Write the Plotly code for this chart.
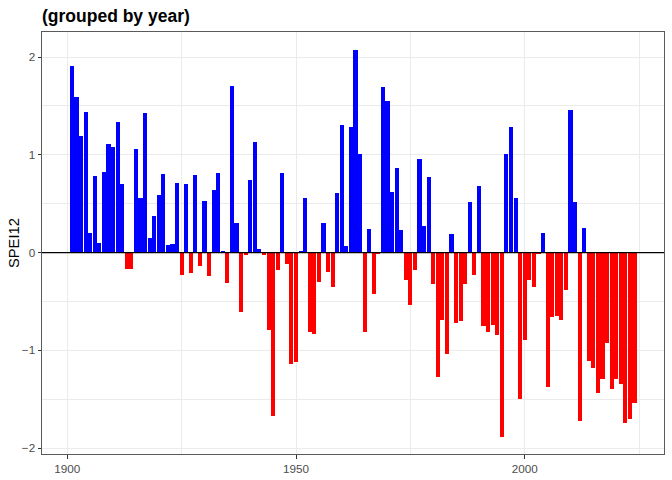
import plotly.graph_objects as go

# SPEI12 annual values
years = list(range(1901, 2025))
spei12 = [
    1.91, 1.59, 1.19, 1.44, 0.20, 0.78, 0.095, 0.82, 1.11, 1.08,      # 1901-1910
    1.34, 0.70, -0.17, -0.165, 1.06, 0.56, 1.43, 0.15, 0.37, 0.585,   # 1911-1920
    0.80, 0.08, 0.09, 0.71, -0.23, 0.70, -0.205, 0.79, -0.133, 0.523, # 1921-1930
    -0.236, 0.636, 0.81, 0.01, -0.31, 1.70, 0.30, -0.605, -0.02, 0.74,  # 1931-1940
    1.13, 0.04, -0.02, -0.79, -1.67, -0.175, 0.81, -0.113, -1.14, -1.12,  # 1941-1950
    0.02, 0.554, -0.81, -0.83, -0.30, 0.30, -0.195, -0.35, 0.605, 1.31,   # 1951-1960
    0.07, 1.28, 2.07, 1.005, -0.81, 0.246, -0.42, -0.01, 1.69, 1.55,      # 1961-1970
    0.615, 0.86, 0.226, -0.277, -0.533, -0.174, 0.954, 0.267, 0.77, -0.318,  # 1971-1980
    -1.27, -0.687, -1.036, 0.195, -0.718, -0.697, -0.318, 0.513, -0.226, 0.677,  # 1981-1990
    -0.749, -0.81, -0.738, -0.84, -1.887, 1.005, 1.28, 0.554, -1.497, -0.892,   # 1991-2000
    -0.277, -0.349, -0.01, 0.205, -1.374, -0.656, -0.646, -0.687, -0.38, 1.456,  # 2001-2010
    0.513, -1.723, 0.256, -1.108, -1.18, -1.436, -1.29, -0.923, -1.395, -1.29,   # 2011-2020
    -1.344, -1.744, -1.70, -1.538,                                              # 2021-2024
]
x_ticks = [1900, 1950, 2000]
y_ticks = [-2, -1, 0, 1, 2]

colors = ["#0000FF" if v > 0 else "#FF0000" for v in spei12]

FONT = "Liberation Sans, Arial, Helvetica, sans-serif"
GRID = "#EBEBEB"
DARK = "#333333"

fig = go.Figure(go.Bar(x=years, y=spei12, width=0.9, marker_color=colors,
                       marker_line_width=0, showlegend=False))

fig.add_hline(y=0, line_color="black", line_width=1.2)

# y axis title placed by hand so it sits where ggplot puts it
fig.add_annotation(text="SPEI12", xref="paper", yref="paper", x=-28 / 622, y=0.5,
                   xanchor="center", yanchor="middle", textangle=-90,
                   showarrow=False, font=dict(size=14.7, color="black", family=FONT))

fig.update_layout(
    width=672, height=480,
    margin=dict(l=42, r=8, t=32, b=26),
    plot_bgcolor="white", paper_bgcolor="white",
    font=dict(family=FONT, color="#4D4D4D"),
    bargap=0,
    title=dict(text="<b>(grouped by year)</b>", x=42 / 672, xref="container",
               xanchor="left", y=1 - 15.5 / 480, yanchor="middle",
               font=dict(size=17.5, color="black", family=FONT)),
)

fig.update_xaxes(
    range=[1894.47, 2030.45], tickvals=x_ticks, ticks="outside", ticklen=3.5,
    tickwidth=1, tickcolor=DARK, tickfont=dict(size=11.7, color="#4D4D4D"),
    showgrid=True, gridcolor=GRID, gridwidth=1.1,
    minor=dict(tickvals=[1925, 1975, 2025], showgrid=True, gridcolor=GRID,
               gridwidth=0.6, ticks=""),
    showline=True, mirror=True, linecolor="#5A5A5A", linewidth=1,
    zeroline=False, automargin=False,
)
fig.update_yaxes(
    range=[-2.06, 2.256], tickvals=y_ticks, ticks="outside", ticklen=3.5,
    tickwidth=1, tickcolor=DARK, tickfont=dict(size=11.7, color="#4D4D4D"),
    showgrid=True, gridcolor=GRID, gridwidth=1.1,
    minor=dict(tickvals=[-1.5, -0.5, 0.5, 1.5], showgrid=True, gridcolor=GRID,
               gridwidth=0.6, ticks=""),
    showline=True, mirror=True, linecolor="#5A5A5A", linewidth=1,
    zeroline=False, automargin=False,
)

# drop the browser's default 8px body margin so the figure fills the window
fig.write_html("out.html", config={"displayModeBar": False},
               post_script="document.body.style.margin='0';")
